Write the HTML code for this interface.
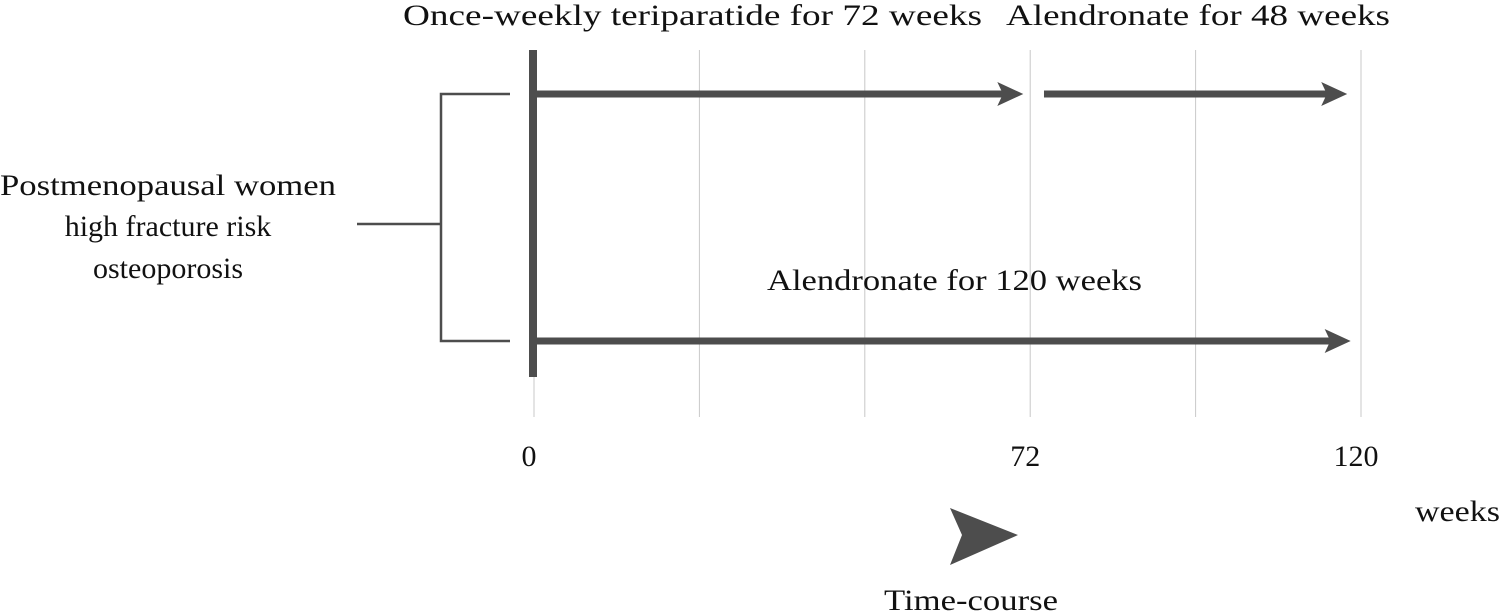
<!DOCTYPE html>
<html><head><meta charset="utf-8"><style>
html,body{margin:0;padding:0;background:#fff;}
svg{display:block;font-family:"Liberation Serif",serif;}
text{fill:#111;font-size:30px;}
</style></head><body>
<svg id="chart" width="1500" height="615" viewBox="0 0 1500 615">
<g id="grid"></g>
<g id="bars"></g>
<rect x="529" y="50" width="8" height="327" fill="#4d4d4d"/>
<g stroke="#4d4d4d" stroke-width="2.5" fill="none">
<path d="M357 224 H441 M510 94 H441 V341 H510"/>
</g>
<g>
<text x="168" y="195" text-anchor="middle" textLength="336" lengthAdjust="spacingAndGlyphs">Postmenopausal women</text>
<text x="168" y="236" text-anchor="middle">high fracture risk</text>
<text x="168" y="278" text-anchor="middle">osteoporosis</text>
</g>
<g id="labels"></g>
<text x="1415" y="521" textLength="85" lengthAdjust="spacingAndGlyphs">weeks</text>
<path d="M950 508 L1018 535 L950 565 L962 535 Z" fill="#4d4d4d"/>
<text x="971" y="610" text-anchor="middle" textLength="174" lengthAdjust="spacingAndGlyphs">Time-course</text>
</svg>
<script>
const gridWeeks = [0, 24, 48, 72, 96, 120];
const tickLabels = ["0", "72", "120"];
const tickWeeks = [0, 72, 120];
const segNames = ["teriparatide-arm", "alendronate-after-teriparatide", "alendronate-arm"];
const segStart = [0, 74, 0];
const segEnd = [71, 118, 118.5];
const segRow = [0, 0, 1];
const segLabels = ["Once-weekly teriparatide for 72 weeks", "Alendronate for 48 weeks", "Alendronate for 120 weeks"];
const NS = "http://www.w3.org/2000/svg";
const x = w => 534 + w * (1361 - 534) / 120;
const rowY = r => [94, 341][r];
const grid = document.getElementById('grid');
gridWeeks.forEach(w => {
  const l = document.createElementNS(NS, 'line');
  
  
  l.setAttribute('x1', x(w)); l.setAttribute('x2', x(w));
  l.setAttribute('y1', 50); l.setAttribute('y2', 417);
  l.setAttribute('stroke', '#c8c8c8'); l.setAttribute('stroke-width', '1');
  grid.appendChild(l);
});
const bars = document.getElementById('bars');
segStart.forEach((s, i) => {
  const y = rowY(segRow[i]);
  const x0 = i === 1 ? x(s) : 537, x1 = x(segEnd[i]);
  const p = document.createElementNS(NS, 'path');
  
  
  p.setAttribute('d', `M${x0} ${y-3.5} H${x1-22} L${x1-26} ${y-12} L${x1} ${y} L${x1-26} ${y+12} L${x1-22} ${y+3.5} H${x0} Z`);
  p.setAttribute('fill', '#4d4d4d');
  bars.appendChild(p);
});
const labels = document.getElementById('labels');
const segLabelPos = [[403, 25, 579], [1006, 25, 384], [767, 290, 375]];
segLabels.forEach((t, i) => {
  const e = document.createElementNS(NS, 'text');
  
  
  e.setAttribute('x', segLabelPos[i][0]); e.setAttribute('y', segLabelPos[i][1]);
  e.setAttribute('textLength', segLabelPos[i][2]); e.setAttribute('lengthAdjust', 'spacingAndGlyphs');
  e.textContent = t;
  labels.appendChild(e);
});
tickLabels.forEach((t, i) => {
  const e = document.createElementNS(NS, 'text');
  
  
  e.setAttribute('x', x(tickWeeks[i]) - 5); e.setAttribute('y', 466);
  e.setAttribute('text-anchor', 'middle');
  e.textContent = t;
  labels.appendChild(e);
});
</script>
</body></html>
